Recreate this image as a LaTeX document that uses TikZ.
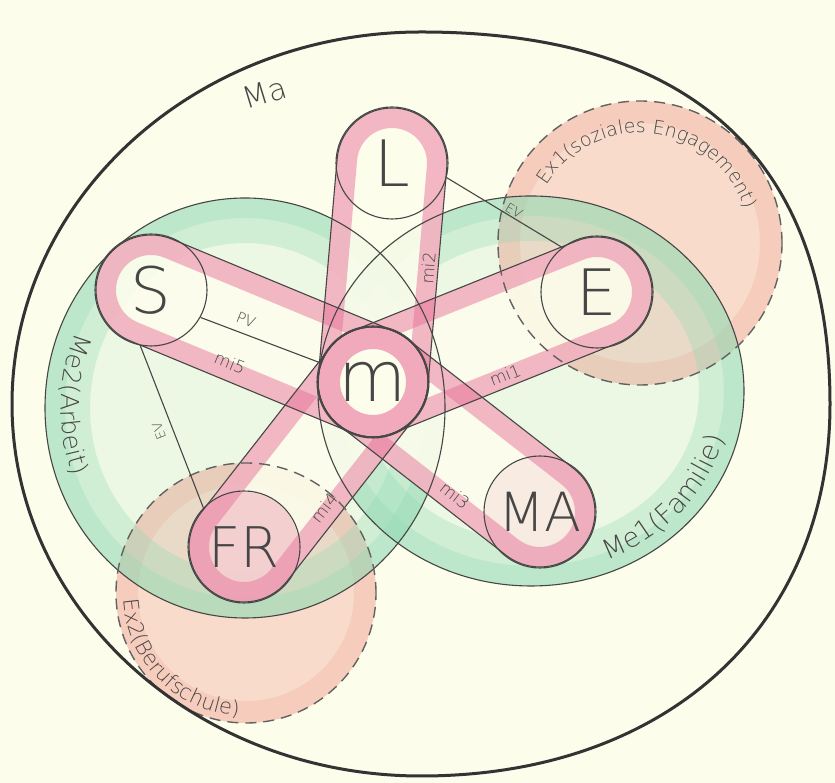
\documentclass[tikz,border=0pt]{standalone}
\usepackage{fontspec}
\setmainfont{DejaVu Sans}
\newfontfamily\hand{DejaVu Sans ExtraLight}
\usetikzlibrary{calc,decorations.text}
\definecolor{bgc}{RGB}{253,253,236}
\definecolor{ink}{RGB}{70,70,70}
\definecolor{mint}{RGB}{145,218,180}
\definecolor{rosa}{RGB}{232,115,155}
\definecolor{lachs}{RGB}{242,170,155}
\newcommand\mkband[4]{%
  \path[#4] let \p1=(#1), \p2=(#2), \n1={atan2(\y2-\y1,\x2-\x1)} in
    ($(#1)+(\n1+90:#3)$) -- ($(#2)+(\n1+90:#3)$)
    arc[start angle=\n1+90, end angle=\n1-90, radius=#3]
    -- ($(#1)+(\n1-90:#3)$)
    arc[start angle=\n1-90, end angle=\n1-270, radius=#3] -- cycle;}
\tikzset{
  person/.style={circle, draw=ink, line width=1.1, minimum size=112, inner sep=0, text=ink},
  rel/.style={draw=ink, line width=1.1},
  lab/.style={text=ink, font=\hand\fontsize{17}{17}\selectfont, inner sep=1},
  exborder/.style={draw=ink!85, line width=1.4, dash pattern=on 11 off 7},
  bandfill/.style={fill=bgc, fill opacity=0.88},
  bandring/.style={draw=rosa, line width=20, draw opacity=0.5},
  bandline/.style={draw=ink, line width=1.1},
}
\begin{document}
\begin{tikzpicture}[x=1pt,y=1pt]
\fill[bgc] (0,0) rectangle (835,783);
\useasboundingbox (0,0) rectangle (835,783);
% centres
\coordinate (cL) at (392,620);
\coordinate (cS) at (151,493);
\coordinate (cE) at (597,491);
\coordinate (cm) at (373,401);
\coordinate (cMA) at (540,271);
\coordinate (cFR) at (244,236);
% external areas
\begin{scope}
  \clip (640,540) circle (142);
  \fill[lachs, opacity=0.4] (640,540) circle (142);
  \draw[lachs, line width=44, opacity=0.3] (640,540) circle (142);
\end{scope}
\begin{scope}
  \clip (246,190) circle (130);
  \fill[lachs, opacity=0.4] (246,190) circle (130);
  \draw[lachs, line width=44, opacity=0.3] (246,190) circle (130);
\end{scope}
% meso areas
\begin{scope}
  \clip (245,375) ellipse [x radius=200, y radius=210];
  \fill[mint, opacity=0.14] (245,375) ellipse [x radius=200, y radius=210];
  \draw[mint, line width=90, opacity=0.32] (245,375) ellipse [x radius=200, y radius=210];
  \draw[mint, line width=40, opacity=0.3] (245,375) ellipse [x radius=200, y radius=210];
\end{scope}
\begin{scope}
  \clip (531,392) ellipse [x radius=213, y radius=195];
  \fill[mint, opacity=0.14] (531,392) ellipse [x radius=213, y radius=195];
  \draw[mint, line width=90, opacity=0.32] (531,392) ellipse [x radius=213, y radius=195];
  \draw[mint, line width=40, opacity=0.3] (531,392) ellipse [x radius=213, y radius=195];
\end{scope}
% bands
\mkband{cL}{cm}{55}{bandfill}
\mkband{cS}{cm}{55}{bandfill}
\mkband{cm}{cMA}{55}{bandfill}
\mkband{cE}{cm}{55}{bandfill}
\mkband{cm}{cFR}{55}{bandfill}
\mkband{cL}{cm}{45}{bandring}
\mkband{cS}{cm}{45}{bandring}
\mkband{cm}{cMA}{45}{bandring}
\mkband{cE}{cm}{45}{bandring}
\mkband{cm}{cFR}{45}{bandring}
\fill[bgc] (cm) circle (55);
\draw[rosa, line width=22, opacity=0.6] (cm) circle (44);
\fill[rosa, opacity=0.3] (cFR) circle (55);
\fill[rosa, opacity=0.12] (cMA) circle (55);
\mkband{cL}{cm}{55}{bandline}
\mkband{cS}{cm}{55}{bandline}
\mkband{cm}{cMA}{55}{bandline}
\mkband{cE}{cm}{55}{bandline}
\mkband{cm}{cFR}{55}{bandline}
% outlines
\draw[ink, line width=1.1] (245,375) ellipse [x radius=200, y radius=210];
\draw[ink, line width=1.1] (531,392) ellipse [x radius=213, y radius=195];
\draw[exborder] (640,540) circle (142);
\draw[exborder] (246,190) circle (130);
\draw[black!80, line width=3] (12,379) .. controls (12,584) and (195,751) .. (421,751)
  .. controls (691,751) and (830,624) .. (830,379)
  .. controls (830,156) and (666,7) .. (421,7)
  .. controls (195,7) and (12,174) .. cycle;
% persons
\node[person, font=\hand\fontsize{64}{64}\selectfont] (L) at (cL) {L};
\node[person, font=\hand\fontsize{64}{64}\selectfont] (S) at (cS) {S};
\node[person, font=\hand\fontsize{64}{64}\selectfont] (E) at (cE) {E};
\node[person, font=\hand\fontsize{70}{70}\selectfont] (m) at (cm) {m};
\node[person, font=\hand\fontsize{54}{54}\selectfont] (MA) at (cMA) {MA};
\node[person, font=\hand\fontsize{56}{56}\selectfont] (FR) at (cFR) {FR};
% relations
\draw[rel] (L.-15) -- (E.128);
\draw[rel] (S.259) -- (FR.136);
\draw[rel] (S.-29) -- (m.160);
% labels
\node[lab, rotate=-22.5] (lmi5) at (230,420) {mi5};
\node[lab, rotate=-38] (lmi3) at (455,288) {mi3};
\node[lab, rotate=22] (lmi1) at (505,408) {mi1};
\node[lab, rotate=52] (lmi4) at (324,275) {mi4};
\node[lab, rotate=85] (lmi2) at (428,515) {mi2};
\node[lab, rotate=-22, font=\hand\fontsize{15}{15}\selectfont] (lpv) at (246,463) {PV};
\node[lab, rotate=-31, font=\hand\fontsize{13}{13}\selectfont] (lev1) at (514,572) {EV};
\node[lab, rotate=111, font=\hand\fontsize{13}{13}\selectfont] (lev2) at (159,352) {EV};
\node[lab, rotate=17, font=\hand\fontsize{30}{30}\selectfont] (lma) at (265,690) {Ma};
% arc labels
\path[decorate, decoration={text along path, text align=center,
  text={|\fontsize{19}{19}\hand\color{ink}|Ex1(soziales Engagement)}}]
  (640,540) ++(160:110) arc[start angle=160, end angle=6, radius=110];
\path[decorate, decoration={text along path, text align=center,
  text={|\fontsize{21}{21}\hand\color{ink}|Ex2(Berufschule)}}]
  (246,190) ++(176:123) arc[start angle=176, end angle=274, radius=123];
\path[decorate, decoration={text along path, text align=center,
  text={|\fontsize{27}{27}\hand\color{ink}|Me1(Familie)}}]
  (531,392) ++(-74:200 and 183) arc[start angle=-74, end angle=-8, x radius=200, y radius=183];
\path[decorate, decoration={text along path, text align=center,
  text={|\fontsize{25}{25}\hand\color{ink}|Me2(Arbeit)}}]
  (245,375) ++(150:184 and 194) arc[start angle=150, end angle=208, x radius=184, y radius=194];
\end{tikzpicture}
\end{document}
